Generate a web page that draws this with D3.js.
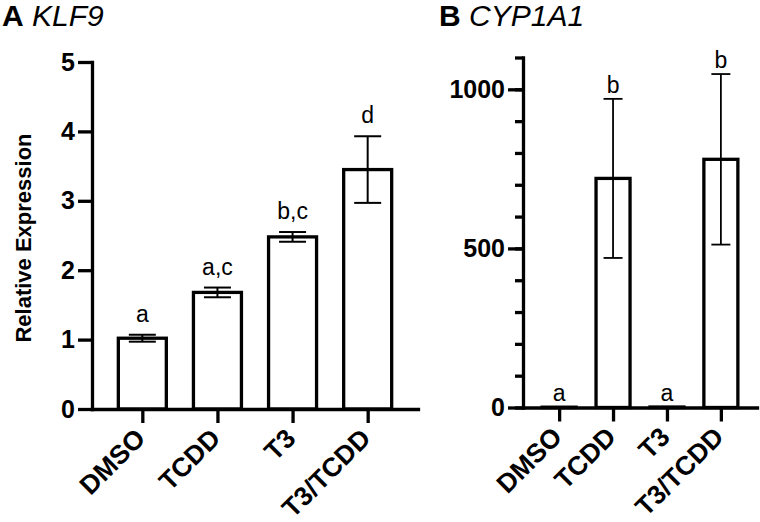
<!DOCTYPE html>
<html>
<head>
<meta charset="utf-8">
<script src="https://cdn.jsdelivr.net/npm/d3@7"></script>
<style>
  html, body { margin: 0; padding: 0; background: #fff; }
  svg { display: block; font-family: "Liberation Sans", Arial, Helvetica, sans-serif; }
</style>
</head>
<body>
<svg id="chart" width="760" height="522"></svg>
<script>
// ---- data ----
const categories = ["DMSO", "TCDD", "T3", "T3/TCDD"];
const klf9Mean   = [1.02, 1.68, 2.48, 3.45];
const klf9Err    = [0.05, 0.07, 0.07, 0.48];
const klf9Letters = ["a", "a,c", "b,c", "d"];
const klf9Ticks  = [0, 1, 2, 3, 4, 5];

const cypMean    = [1, 720, 1.5, 780];
const cypErr     = [0, 250, 0, 268];
const cypLetters = ["a", "b", "a", "b"];
const cypMajorTicks = [0, 500, 1000];
const cypMinorTicks = [0, 100, 200, 300, 400, 500, 600, 700, 800, 900, 1000, 1100];

const svg = d3.select("#chart");
const FONT = "'Liberation Sans', Arial, sans-serif";

function styleAxis(g, sw) {
  g.select(".domain").attr("stroke", "#000").attr("stroke-width", sw).attr("stroke-linecap", "square");
  g.selectAll(".tick line").attr("stroke", "#000").attr("stroke-width", sw);
}

function panel(opts) {
  const { x0, x1, y0, y1, yMax, mean, err, letters, barW, capW, errSW, letterGap } = opts;
  const g = svg.append("g");
  const y = d3.scaleLinear().domain([0, yMax]).range([y0, y1]);
  const x = d3.scalePoint().domain(categories).range([x0, x1]).padding(0.67);

  // bars
  g.selectAll("rect.bar").data(categories).join("rect")
    .attr("class", "bar")
    .attr("x", d => x(d) - barW / 2)
    .attr("width", barW)
    .attr("y", (d, i) => y(mean[i]))
    .attr("height", (d, i) => y(0) - y(mean[i]))
    .attr("fill", "#fff").attr("stroke", "#000").attr("stroke-width", 3.3);

  // error bars
  categories.forEach((c, i) => {
    if (err[i] <= 0) return;
    const cx = x(c), t = y(mean[i] + err[i]), b = y(mean[i] - err[i]);
    g.append("line").attr("x1", cx).attr("x2", cx).attr("y1", t).attr("y2", b)
      .attr("stroke", "#000").attr("stroke-width", errSW);
    [t, b].forEach(v => g.append("line").attr("x1", cx - capW / 2).attr("x2", cx + capW / 2)
      .attr("y1", v).attr("y2", v).attr("stroke", "#000").attr("stroke-width", errSW));
  });

  // letters
  g.selectAll("text.letter").data(categories).join("text")
    .attr("class", "letter")
    .attr("x", d => x(d))
    .attr("y", (d, i) => y(mean[i] + err[i]) - letterGap)
    .attr("text-anchor", "middle")
    .attr("font-size", 23)
    .text((d, i) => letters[i]);

  // x axis
  const xa = g.append("g").attr("transform", `translate(0,${y0})`)
    .call(d3.axisBottom(x).tickSize(14).tickSizeOuter(0));
  styleAxis(xa, 3.3);
  xa.selectAll(".tick text")
    .attr("x", 0).attr("y", 0).attr("dy", null)
    .attr("transform", "translate(4,31) rotate(-45)")
    .attr("text-anchor", "end")
    .attr("font-size", 26.5).attr("font-weight", "bold").attr("fill", "#000")
    .attr("font-family", FONT);

  return { g, x, y };
}

// Panel A
const A = panel({ x0: 92, x1: 418, y0: 409, y1: 62, yMax: 5,
  mean: klf9Mean, err: klf9Err, letters: klf9Letters,
  barW: 48, capW: 27, errSW: 2, letterGap: 13 });
const ayA = A.g.append("g").attr("transform", "translate(92,0)")
  .call(d3.axisLeft(A.y).tickValues(klf9Ticks).tickFormat(d3.format("d")).tickSize(14).tickSizeOuter(0).tickPadding(3));
styleAxis(ayA, 3.3);
ayA.selectAll(".tick text").attr("font-size", 25).attr("font-weight", "bold").attr("fill", "#000")
  .attr("font-family", FONT);

// Panel B
const B = panel({ x0: 523, x1: 757, y0: 407.5, y1: 57.5, yMax: 1100,
  mean: cypMean, err: cypErr, letters: cypLetters,
  barW: 34, capW: 19, errSW: 1.8, letterGap: 6 });
const minorB = B.g.append("g").attr("transform", "translate(523,0)")
  .call(d3.axisLeft(B.y).tickValues(cypMinorTicks).tickFormat("").tickSize(8).tickSizeOuter(0));
styleAxis(minorB, 3.3);
const ayB = B.g.append("g").attr("transform", "translate(523,0)")
  .call(d3.axisLeft(B.y).tickValues(cypMajorTicks).tickFormat(d3.format("d")).tickSize(15).tickSizeOuter(0).tickPadding(3));
styleAxis(ayB, 3.3);
ayB.select(".domain").remove();
ayB.selectAll(".tick text").attr("font-size", 25).attr("font-weight", "bold").attr("fill", "#000")
  .attr("font-family", FONT);

// Y axis title (panel A)
svg.append("text")
  .attr("transform", "translate(31,238) rotate(-90)")
  .attr("text-anchor", "middle")
  .attr("font-size", 22).attr("font-weight", "bold")
  .text("Relative Expression");

// Panel titles
function title(x, letter, gene) {
  const t = svg.append("text").attr("x", x).attr("y", 26).attr("font-size", 30);
  t.append("tspan").attr("font-weight", "bold").text(letter);
  t.append("tspan").attr("font-style", "italic").text(" " + gene);
}
title(2, "A", "KLF9");
title(439, "B", "CYP1A1");
</script>
</body>
</html>
